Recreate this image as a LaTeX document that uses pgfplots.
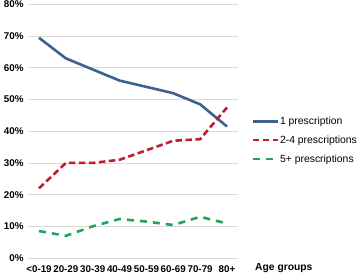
\documentclass[border=0pt]{standalone}
\usepackage{pgfplots}
\pgfplotsset{compat=1.18}
\usepackage{fontspec}
\setmainfont{Liberation Sans}
\definecolor{cblue}{HTML}{3D6290}
\definecolor{cred}{HTML}{BE1E2D}
\definecolor{cgreen}{HTML}{22A35A}
\begin{document}
\begin{tikzpicture}[x=1pt,y=1pt]
\path[use as bounding box] (0,0) rectangle (357,277);
\begin{axis}[
  at={(28pt,19pt)}, anchor=south west,
  scale only axis, width=210pt, height=253.5pt,
  xmin=-0.41, xmax=7.41, ymin=0, ymax=80,
  axis line style={draw=none},
  tick style={draw=none},
  xtick={0,...,7},
  xticklabels={<0-19,20-29,30-39,40-49,50-59,60-69,70-79,80+},
  ytick={0,10,...,80},
  yticklabel={\pgfmathprintnumber{\tick}\%},
  /pgf/number format/assume math mode=true,
  ymajorgrids, grid style={draw=gray!30, line width=0.8pt},
  tick label style={font=\fontsize{9.8}{11}\selectfont\bfseries},
  yticklabel style={xshift=-1pt},
  xticklabel style={yshift=-4pt, inner xsep=0pt},
  legend style={at={(1.065,0.565)}, anchor=north west, draw=none, fill=none,
    font=\fontsize{10.4}{12}\selectfont, row sep=5.8pt, inner sep=0pt,
    legend cell align=left, nodes={inner xsep=1pt}},
  legend image code/.code={\draw[#1, line width=2.2pt] (0pt,0pt) -- (25pt,0pt);},
  clip=false,
]
\addplot[cblue, line width=2.6pt] coordinates {(0,69.5) (1,63) (2,59.5) (3,56) (4,54) (5,52) (6,48.5) (7,41.5)};
\addplot[cred, line width=2.6pt, dash pattern=on 6.5pt off 3.5pt] coordinates {(0,22) (1,30) (2,30) (3,31) (4,34) (5,37) (6,37.5) (7,47.5)};
\addplot[cgreen, line width=2.6pt, dash pattern=on 7pt off 6pt] coordinates {(0,8.5) (1,7) (2,10) (3,12.3) (4,11.5) (5,10.4) (6,13) (7,10.9)};
\legend{1 prescription,2-4 prescriptions,5+ prescriptions}
\end{axis}
\node[anchor=west, inner xsep=0pt, font=\fontsize{10.3}{12}\selectfont\bfseries] at (255,9) {Age groups};
\end{tikzpicture}
\end{document}
